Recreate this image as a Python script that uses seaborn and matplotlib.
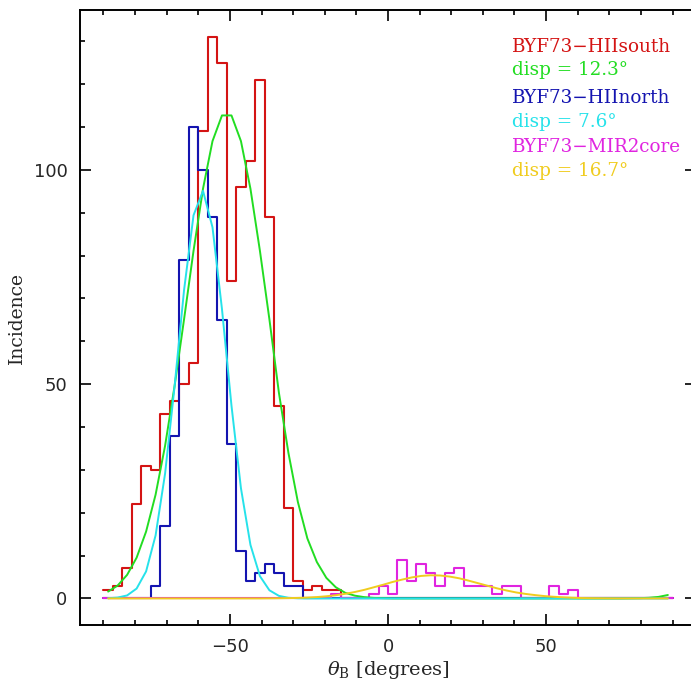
import numpy as np
import pandas as pd
import matplotlib
matplotlib.use("Agg")
import matplotlib.pyplot as plt
import seaborn as sns

# bins: 3 degree wide, -90 .. 90
edges = np.arange(-90, 91, 3)
centers = edges[:-1] + 1.5

south_counts = [2, 3, 7, 22, 31, 30, 43, 46, 50, 55,
                109, 131, 125, 74, 96, 102, 121, 89, 45, 21,
                4, 2, 3, 2, 2, 0, 0, 0, 0, 0,
                0, 0, 0, 0, 0, 0, 0, 0, 0, 0,
                0, 0, 0, 0, 0, 0, 0, 0, 0, 0,
                0, 0, 0, 0, 0, 0, 0, 0, 0, 0]
north_counts = [0, 0, 0, 0, 0, 3, 17, 38, 79, 110,
                100, 89, 65, 36, 11, 4, 6, 8, 6, 3,
                3, 0, 0, 0, 0, 0, 0, 0, 0, 0,
                0, 0, 0, 0, 0, 0, 0, 0, 0, 0,
                0, 0, 0, 0, 0, 0, 0, 0, 0, 0,
                0, 0, 0, 0, 0, 0, 0, 0, 0, 0]
core_counts = [0, 0, 0, 0, 0, 0, 0, 0, 0, 0,
               0, 0, 0, 0, 0, 0, 0, 0, 0, 0,
               0, 0, 0, 0, 1, 0, 0, 0, 1, 3,
               1, 9, 4, 8, 6, 3, 6, 7, 3, 3,
               3, 1, 3, 3, 0, 0, 0, 3, 1, 2,
               0, 0, 0, 0, 0, 0, 0, 0, 0, 0]

# fitted curves, read at the bin centres
south_fit = [1.6, 3.0, 5.5, 9.5, 15.6, 24.2, 35.6, 49.5, 65.1, 81.1,
             95.6, 106.7, 112.7, 112.7, 106.7, 95.6, 81.1, 65.1, 48, 34,
             22.5, 14, 8.5, 4.8, 2.6, 1.3, 0.65, 0.3, 0.12, 0.05,
             0, 0, 0, 0, 0, 0, 0, 0, 0, 0,
             0, 0, 0, 0, 0, 0, 0, 0, 0, 0,
             0, 0, 0, 0, 0, 0.03, 0.06, 0.15, 0.35, 0.8]
north_fit = [0.05, 0.2, 0.7, 2.3, 6.3, 14.7, 29.1, 49.4, 71.9, 89.4,
             95.1, 86.6, 67.5, 45.0, 25.7, 12.5, 5.2, 1.9, 0.6, 0.15,
             0.03, 0, 0, 0, 0, 0, 0, 0, 0, 0,
             0, 0, 0, 0, 0, 0, 0, 0, 0, 0,
             0, 0, 0, 0, 0, 0, 0, 0, 0, 0,
             0, 0, 0, 0, 0, 0, 0, 0, 0, 0]
core_fit = [0, 0, 0, 0, 0, 0, 0, 0, 0, 0,
            0, 0, 0, 0, 0, 0, 0, 0.02, 0.04, 0.07,
            0.12, 0.2, 0.32, 0.5, 0.75, 1.08, 1.5, 2.0, 2.6, 3.2,
            3.85, 4.4, 4.9, 5.25, 5.4, 5.35, 5.1, 4.7, 4.15, 3.55,
            2.95, 2.35, 1.85, 1.4, 1.05, 0.78, 0.55, 0.38, 0.25, 0.15,
            0.09, 0.05, 0.03, 0.01, 0, 0, 0, 0, 0, 0]

labels = ["BYF73\u2212HIIsouth", "disp = 12.3\u00b0",
          "BYF73\u2212HIInorth", "disp = 7.6\u00b0",
          "BYF73\u2212MIR2core", "disp = 16.7\u00b0"]

red = "#d41414"
green = "#22dd22"
blue = "#1414b0"
cyan = "#26e2ea"
magenta = "#e024e0"
yellow = "#f0cc1e"

sns.set_style("ticks")
plt.rcParams["font.family"] = ["DejaVu Sans"]
plt.rcParams["mathtext.fontset"] = "dejavuserif"

df = pd.DataFrame({"theta": centers, "south": south_counts, "north": north_counts,
                   "core": core_counts, "south_fit": south_fit,
                   "north_fit": north_fit, "core_fit": core_fit})

fig = plt.figure(figsize=(6.91, 6.86), dpi=100)
ax = fig.add_axes([80 / 691, 61 / 686, 616 / 691, 615 / 686])

for col, c in [("south", red), ("north", blue), ("core", magenta)]:
    sns.histplot(data=df, x="theta", weights=col, binwidth=3, binrange=(-90, 90),
                 element="step", fill=False, color=c, linewidth=1.5, ax=ax)

for col, c in [("south_fit", green), ("north_fit", cyan), ("core_fit", yellow)]:
    sns.lineplot(data=df, x="theta", y=col, color=c, linewidth=1.4, ax=ax)

ax.set_xlim(-97.4, 97.4)
ax.set_ylim(-6.2, 137.3)
ax.set_xticks([-50, 0, 50])
ax.set_xticks(np.arange(-90, 91, 10), minor=True)
ax.set_yticks([0, 50, 100])
ax.set_yticks(np.arange(0, 131, 10), minor=True)
ax.set_xticklabels(["\u221250", "0", "50"])
ax.tick_params(which="both", direction="in", top=True, right=True, width=1.2,
               labelsize=13, pad=9, color="black")
ax.tick_params(which="major", length=8)
ax.tick_params(which="minor", length=3.8)
for s in ax.spines.values():
    s.set_linewidth(1.4)
    s.set_color("black")

ax.set_xlabel(r"$\theta_{\rm B}$ [degrees]", family="DejaVu Serif", fontsize=14)
ax.set_ylabel("Incidence", family="DejaVu Serif", fontsize=13.5)
ax.xaxis.set_label_coords(0.5, -0.055)
ax.yaxis.set_label_coords(-0.088, 0.5)

text_colors = [red, green, blue, cyan, magenta, yellow]
text_y = [47, 70, 98, 122, 147, 171]
for lab, c, yy in zip(labels, text_colors, text_y):
    fig.text(512 / 691, 1 - yy / 686, lab, color=c, family="DejaVu Serif",
             fontsize=13.2, va="center", ha="left")

fig.savefig("out.png", dpi=100)
